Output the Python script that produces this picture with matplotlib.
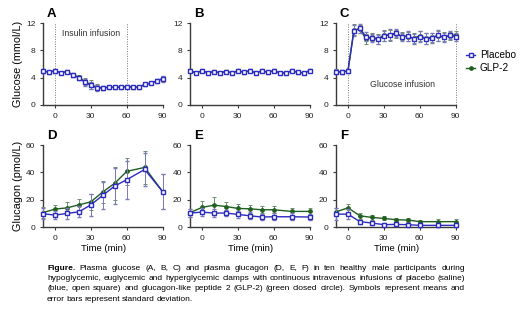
import matplotlib
matplotlib.use("Agg")
import matplotlib.pyplot as plt
from matplotlib.lines import Line2D

plt.rcParams['font.family'] = ['Liberation Sans', 'DejaVu Sans']

# ---------------- data ----------------
t_glu = [-10, -5, 0, 5, 10, 15, 20, 25, 30, 35, 40, 45, 50, 55, 60, 65, 70, 75, 80, 85, 90]
t_gcg = [-10, 0, 10, 20, 30, 40, 50, 60, 75, 90]

# Glucose (mmol/L)
A_pla = [5.0, 4.8, 5.0, 4.7, 4.9, 4.4, 4.0, 3.3, 2.9, 2.5, 2.5, 2.6, 2.6, 2.6, 2.7, 2.6, 2.6, 3.0, 3.2, 3.5, 3.8]
A_pla_sd = [0.3, 0.2, 0.3, 0.2, 0.2, 0.3, 0.3, 0.5, 0.5, 0.4, 0.3, 0.2, 0.2, 0.2, 0.2, 0.2, 0.2, 0.2, 0.2, 0.3, 0.4]
A_glp = [5.0, 4.8, 5.0, 4.7, 4.9, 4.4, 4.1, 3.4, 3.0, 2.6, 2.5, 2.6, 2.6, 2.6, 2.7, 2.6, 2.6, 3.0, 3.2, 3.5, 3.9]
A_glp_sd = [0.3, 0.2, 0.3, 0.2, 0.2, 0.3, 0.3, 0.5, 0.6, 0.4, 0.3, 0.2, 0.2, 0.2, 0.2, 0.2, 0.2, 0.2, 0.2, 0.3, 0.4]

B_pla = [5.0, 4.7, 5.0, 4.7, 4.9, 4.7, 4.9, 4.7, 5.0, 4.8, 5.0, 4.7, 5.0, 4.8, 5.0, 4.7, 4.7, 5.0, 4.8, 4.7, 5.0]
B_pla_sd = [0.2] * 21
B_glp = [5.0, 4.7, 5.0, 4.7, 4.9, 4.7, 4.9, 4.7, 5.0, 4.8, 5.0, 4.7, 5.0, 4.8, 5.0, 4.7, 4.7, 5.0, 4.8, 4.7, 5.0]
B_glp_sd = [0.2] * 21

C_pla = [4.9, 4.8, 5.0, 10.9, 11.2, 10.0, 9.8, 9.6, 10.1, 10.3, 10.5, 10.0, 10.1, 9.7, 10.0, 9.7, 9.8, 10.2, 9.9, 10.2, 10.0]
C_pla_sd = [0.3, 0.3, 0.3, 0.8, 0.6, 0.7, 0.6, 0.7, 0.8, 0.8, 0.6, 0.6, 0.7, 0.7, 0.8, 0.8, 0.7, 0.8, 0.7, 0.6, 0.6]
C_glp = [4.9, 4.8, 5.0, 11.0, 11.1, 9.7, 9.9, 9.7, 10.2, 10.2, 10.4, 10.1, 10.0, 9.8, 10.1, 9.8, 9.9, 10.1, 10.0, 10.1, 10.3]
C_glp_sd = [0.3, 0.3, 0.3, 0.8, 0.6, 0.7, 0.6, 0.7, 0.8, 0.8, 0.6, 0.6, 0.7, 0.7, 0.8, 0.8, 0.7, 0.8, 0.7, 0.6, 0.6]

# Glucagon (pmol/L)
D_pla = [9.7, 8.7, 9.9, 11.1, 16.2, 23.2, 30.0, 34.6, 42.1, 25.9]
D_pla_sd = [4, 3, 4, 4, 8, 10, 13, 14, 12, 13]
D_glp = [10.5, 13.1, 14.0, 16.2, 18.4, 25.7, 32.0, 40.7, 43.6, 25.9]
D_glp_sd = [4, 3, 4, 4, 6, 8, 12, 10, 12, 13]

E_pla = [10.2, 10.9, 10.2, 10.2, 9.2, 8.2, 7.3, 7.5, 7.5, 7.3]
E_pla_sd = [3, 3, 3, 2.5, 2.5, 2.5, 2.5, 2.5, 2.5, 2.5]
E_glp = [10.5, 14.3, 16.0, 15.0, 13.6, 13.3, 12.6, 12.6, 11.4, 11.4]
E_glp_sd = [3, 5, 6, 3.5, 3, 3, 2.5, 2.5, 2.5, 2.5]

F_pla = [9.4, 9.4, 3.9, 2.9, 1.7, 1.9, 1.7, 1.2, 1.2, 1.2]
F_pla_sd = [4.5, 3.5, 1.5, 1.2, 1, 1, 1, 1, 1, 1]
F_glp = [11.1, 14.0, 8.2, 7.0, 6.3, 5.3, 5.1, 3.9, 3.9, 3.9]
F_glp_sd = [3, 3, 2, 2, 1.5, 1.5, 1.5, 1.5, 2, 2]

xticks = [0, 30, 60, 90]
glu_ticks = [0, 4, 8, 12]
gcg_ticks = [0, 20, 40, 60]

caption_lines = [
    "Figure. Plasma glucose (A, B, C) and plasma glucagon (D, E, F) in ten healthy male participants during",
    "hypoglycemic, euglycemic and hyperglycemic clamps with continuous intravenous infusions of placebo (saline)",
    "(blue, open square) and glucagon-like peptide 2 (GLP-2) (green closed circle). Symbols represent means and",
    "error bars represent standard deviation.",
]

# ---------------- style ----------------
BLUE = '#2b2bc0'
GREEN = '#1f5f1f'
BLUE_ERR = '#7a7ab8'
GREEN_ERR = '#6f8f6f'
SPINE = '#3a3a3a'

W, H = 520, 310
fig = plt.figure(figsize=(W / 100, H / 100), dpi=100)


def ax_at(left_px, top_px, width_px, height_px):
    return fig.add_axes([left_px / W, 1 - (top_px + height_px) / H, width_px / W, height_px / H])


def style(ax, yticks, ymax):
    ax.set_xlim(-10, 92)
    ax.set_ylim(0, ymax)
    for s in ['top', 'right']:
        ax.spines[s].set_visible(False)
    for s in ['left', 'bottom']:
        ax.spines[s].set_color(SPINE)
        ax.spines[s].set_linewidth(1.0)
    ax.spines['bottom'].set_bounds(-10, 90)
    ax.set_xticks(xticks)
    ax.set_yticks(yticks)
    ax.tick_params(direction='out', length=2.5, width=0.8, color=SPINE,
                   labelsize=6.0, pad=3, labelcolor='#222222')
    ax.patch.set_alpha(0)


MSQ = 3.2
MCI = 2.4


def plot_pair(ax, t, pla, pla_sd, glp, glp_sd):
    ax.errorbar(t, glp, yerr=glp_sd, color=GREEN, ecolor=GREEN_ERR, elinewidth=0.7,
                capsize=1.5, capthick=0.7, lw=1.0, marker='o', ms=MCI,
                mfc=GREEN, mec=GREEN, zorder=3, clip_on=False)
    ax.errorbar(t, pla, yerr=pla_sd, color=BLUE, ecolor=BLUE_ERR, elinewidth=0.7,
                capsize=1.5, capthick=0.7, lw=1.0, marker='s', ms=MSQ,
                mfc='white', mec=BLUE, mew=1.0, zorder=4, clip_on=False)


pw, ph = 122, 82
lefts = [43, 190, 336]
top_row, bot_row = 23, 145

glu_sets = [(A_pla, A_pla_sd, A_glp, A_glp_sd), (B_pla, B_pla_sd, B_glp, B_glp_sd),
            (C_pla, C_pla_sd, C_glp, C_glp_sd)]
gcg_sets = [(D_pla, D_pla_sd, D_glp, D_glp_sd), (E_pla, E_pla_sd, E_glp, E_glp_sd),
            (F_pla, F_pla_sd, F_glp, F_glp_sd)]

axes_top, axes_bot = [], []
for i, (lx, data) in enumerate(zip(lefts, glu_sets)):
    ax = ax_at(lx, top_row, pw, ph)
    style(ax, glu_ticks, 12)
    plot_pair(ax, t_glu, *data)
    ax.text(0.03, 1.04, "ABC"[i], transform=ax.transAxes, fontsize=9.5,
            fontweight='bold', ha='left', va='bottom')
    axes_top.append(ax)

for i, (lx, data) in enumerate(zip(lefts, gcg_sets)):
    ax = ax_at(lx, bot_row, pw, ph)
    style(ax, gcg_ticks, 60)
    plot_pair(ax, t_gcg, *data)
    ax.text(0.03, 1.04, "DEF"[i], transform=ax.transAxes, fontsize=9.5,
            fontweight='bold', ha='left', va='bottom')
    ax.set_xlabel("Time (min)", fontsize=6.8, labelpad=1.5)
    axes_bot.append(ax)

axes_top[0].set_ylabel("Glucose (mmol/L)", fontsize=7.8, labelpad=2)
axes_bot[0].set_ylabel("Glucagon (pmol/L)", fontsize=7.8, labelpad=2)

# infusion markers
for x in [0, 60]:
    axes_top[0].axvline(x, color='#777777', lw=0.7, ls=(0, (1, 1.5)), zorder=1)
for x in [0, 90]:
    axes_top[2].axvline(x, color='#777777', lw=0.7, ls=(0, (1, 1.5)), zorder=1)
axes_top[0].text(30, 10.4, "Insulin infusion", fontsize=6.3, ha='center', va='center', color='#333333')
axes_top[2].text(46, 3.0, "Glucose infusion", fontsize=6.3, ha='center', va='center', color='#333333')

# legend
handles = [Line2D([], [], color=BLUE, lw=1.0, marker='s', ms=MSQ, mfc='white', mec=BLUE, mew=1.0),
           Line2D([], [], color=GREEN, lw=1.0, marker='o', ms=MCI, mfc=GREEN, mec=GREEN)]
fig.legend(handles, ["Placebo", "GLP-2"], loc='upper left', bbox_to_anchor=(461 / W, 1 - 45 / H),
           frameon=False, fontsize=7.2, handlelength=0.9, handletextpad=0.5,
           labelspacing=0.3, borderpad=0)

# caption (justified, first word bold)
x0_px, x1_px = 47, 465
ys = [268, 278.5, 289, 299.5]
fs = 6.0
fig.canvas.draw()
r = fig.canvas.get_renderer()
for li, (line, y) in enumerate(zip(caption_lines, ys)):
    words = line.split(' ')
    objs = []
    for wi, w in enumerate(words):
        bold = (li == 0 and wi == 0)
        objs.append(fig.text(0, 1 - y / H, w, fontsize=fs, ha='left', va='center',
                             fontweight='bold' if bold else 'normal'))
    widths = [o.get_window_extent(r).width for o in objs]
    if li < len(caption_lines) - 1:
        gap = (x1_px - x0_px - sum(widths)) / (len(words) - 1)
    else:
        gap = 1.7
    x = x0_px
    for o, wd in zip(objs, widths):
        o.set_x(x / W)
        x += wd + gap

fig.savefig("out.png", dpi=100)
